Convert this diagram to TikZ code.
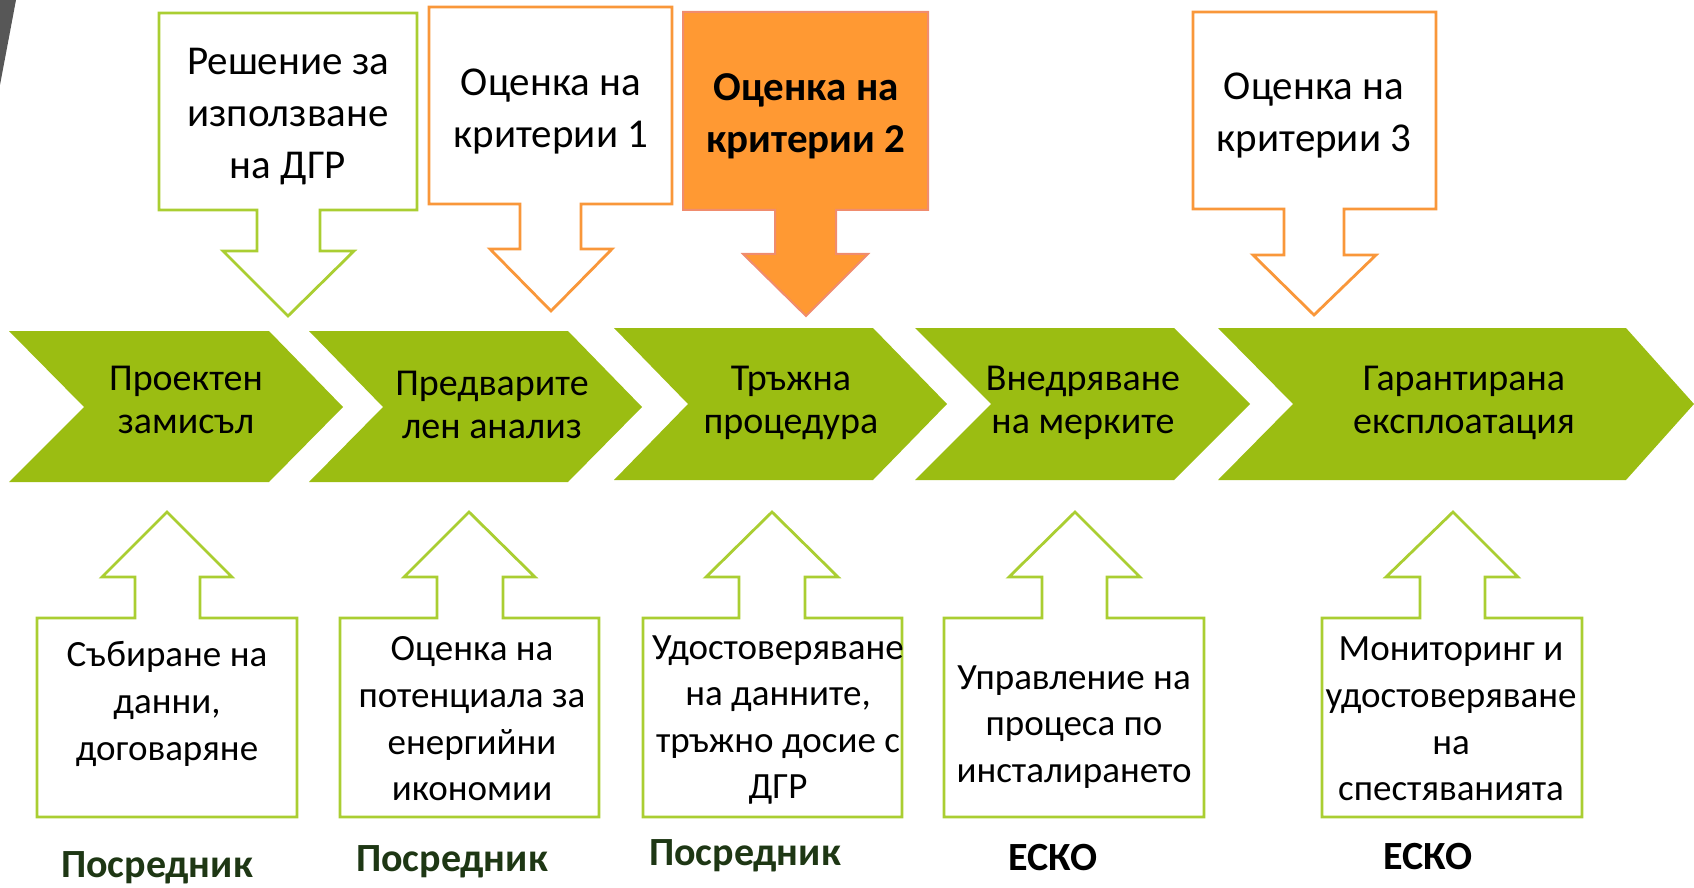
\documentclass[tikz,border=0pt]{standalone}
\usepackage{fontspec}
\setmainfont{Carlito}
\definecolor{chevgreen}{RGB}{155,189,18}
\definecolor{linegreen}{RGB}{170,206,50}
\definecolor{lineorange}{RGB}{249,151,58}
\definecolor{fillorange}{RGB}{255,153,51}
\definecolor{edgeorange}{RGB}{240,140,110}
\definecolor{labelgreen}{RGB}{30,55,20}
\definecolor{slidegray}{RGB}{87,87,87}
\begin{document}
\begin{tikzpicture}[x=0.5pt,y=-0.5pt]
            \tikzstyle{chevron}=[fill=chevgreen,draw=none]
            \tikzstyle{greenbox}=[draw=linegreen,line width=1.4pt,fill=white,line join=miter]
            \tikzstyle{orangebox}=[draw=lineorange,line width=1.4pt,fill=white,line join=miter]
            \tikzstyle{chevtext}=[align=center,font=\fontsize{19}{21.5}\selectfont]
            \tikzstyle{toptext}=[align=center,font=\fontsize{20.5}{26}\selectfont]
            \tikzstyle{bottext}=[align=center,font=\fontsize{18.5}{23.3}\selectfont]
            \tikzstyle{actor}=[font=\fontsize{20}{24}\selectfont\bfseries]

            \useasboundingbox (0,0) rectangle (1694,888);

            % slide corner
            \fill[slidegray] (0,0)--(16,0)--(0,85)--cycle;

            % process chevrons
            \fill[chevron] (9,331)--(269,331)--(343,407)--(269,482)--(9,482)--(84,407)--cycle;
            \fill[chevron] (309,331)--(568,331)--(642,407)--(568,482)--(309,482)--(383,407)--cycle;
            \fill[chevron] (614,328)--(873,328)--(947,404)--(873,480)--(614,480)--(688,404)--cycle;
            \fill[chevron] (915,328)--(1174,328)--(1250,404)--(1174,480)--(915,480)--(991,404)--cycle;
            \fill[chevron] (1218,328)--(1626,328)--(1694,404)--(1626,480)--(1218,480)--(1293,404)--cycle;

            \node[chevtext] (idea) at (186,400) {Проектен\\замисъл};
            \node[chevtext] (prelim) at (492,405) {Предварите\\лен анализ};
            \node[chevtext] (tender) at (791,403) {Тръжна\\процедура};
            \node[chevtext] (install) at (1083,403) {Внедряване\\на мерките};
            \node[chevtext] (operate) at (1464,403) {Гарантирана\\експлоатация};

            % top callouts
            \draw[greenbox] (159,13)--(417,13)--(417,210)--(320,210)--(320,251)--(354,251)--(288,316)--(223,251)--(257,251)--(257,210)--(159,210)--cycle;
            \draw[orangebox] (429,7)--(672,7)--(672,204)--(581,204)--(581,249)--(612,249)--(551,311)--(490,249)--(520,249)--(520,204)--(429,204)--cycle;
            \draw[fill=fillorange,draw=edgeorange,line width=1pt] (683,12)--(928,12)--(928,210)--(836,210)--(836,254)--(868,254)--(806,316)--(743,254)--(775,254)--(775,210)--(683,210)--cycle;
            \draw[orangebox] (1193,12)--(1436,12)--(1436,209)--(1344,209)--(1344,255)--(1376,255)--(1314,315)--(1253,255)--(1284,255)--(1284,209)--(1193,209)--cycle;

            \node[toptext] (decision) at (288,117) {Решение за\\използване\\на ДГР};
            \node[toptext] (crit1) at (551,112) {Оценка на\\критерии 1};
            \node[toptext,font=\fontsize{20.5}{26}\selectfont\bfseries] (crit2) at (806,116) {Оценка на\\критерии 2};
            \node[toptext] (crit3) at (1314,116) {Оценка на\\критерии 3};

            % bottom callouts
            \draw[greenbox] (37,817)--(37,618)--(135,618)--(135,577)--(102,577)--(167,512)--(232,577)--(200,577)--(200,618)--(297,618)--(297,817)--cycle;
            \draw[greenbox] (340,817)--(340,618)--(437,618)--(437,577)--(404,577)--(469,512)--(535,577)--(503,577)--(503,618)--(599,618)--(599,817)--cycle;
            \draw[greenbox] (643,817)--(643,618)--(739,618)--(739,577)--(706,577)--(772,512)--(838,577)--(805,577)--(805,618)--(902,618)--(902,817)--cycle;
            \draw[greenbox] (944,817)--(944,618)--(1042,618)--(1042,577)--(1009,577)--(1075,512)--(1140,577)--(1107,577)--(1107,618)--(1204,618)--(1204,817)--cycle;
            \draw[greenbox] (1322,817)--(1322,618)--(1420,618)--(1420,577)--(1386,577)--(1453,512)--(1518,577)--(1485,577)--(1485,618)--(1582,618)--(1582,817)--cycle;

            \node[bottext] (data) at (167,704) {Събиране на\\данни,\\договаряне};
            \node[bottext] (potential) at (472,719) {Оценка на\\потенциала за\\енергийни\\икономии};
            \node[bottext] (verify) at (778,720) {Удостоверяване\\на данните,\\тръжно досие с\\ДГР};
            \node[bottext] (manage) at (1074,727) {Управление на\\процеса по\\инсталирането};
            \node[bottext] (monitor) at (1451,719) {Мониторинг и\\удостоверяване\\на\\спестяванията};

            % who does it
            \node[actor,text=labelgreen] (agent1) at (157,868) {Посредник};
            \node[actor,text=labelgreen] (agent2) at (452,862) {Посредник};
            \node[actor,text=labelgreen] (agent3) at (745,856) {Посредник};
            \node[actor] (esco1) at (1053,858) {ЕСКО};
            \node[actor] (esco2) at (1428,857) {ЕСКО};

       \end{tikzpicture}
\end{document}
